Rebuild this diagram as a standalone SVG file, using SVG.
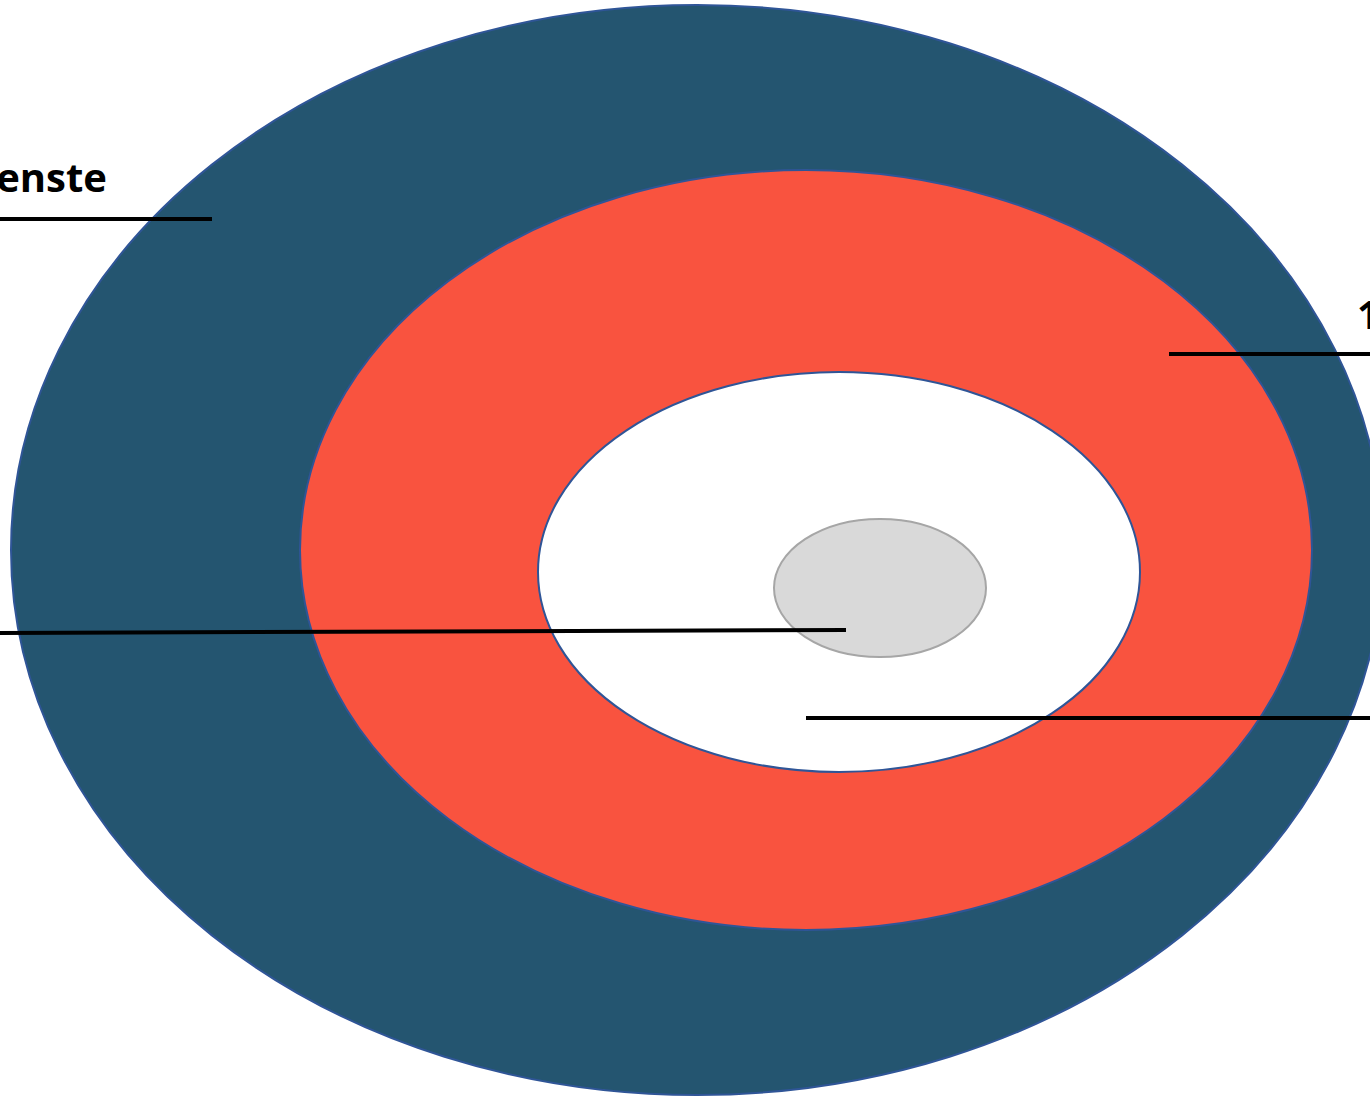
<svg xmlns="http://www.w3.org/2000/svg" width="1370" height="1097" viewBox="0 0 1370 1097">
<style>
.lbl{font-family:"Open Sans","Liberation Sans",sans-serif;font-weight:bold;font-size:40px;fill:#000}
.ring{stroke:#2F5597;stroke-width:2}
.lead{stroke:#000;stroke-width:4;fill:none}
</style>
<rect width="1370" height="1097" fill="#fff"/>
<g id="outer"><ellipse class="ring" cx="697" cy="550" rx="686" ry="545" fill="#245570"/></g>
<g id="middle"><ellipse class="ring" cx="806" cy="550" rx="506" ry="380" fill="#F9533F"/></g>
<g id="inner"><ellipse class="ring" cx="839" cy="572" rx="301" ry="200" fill="#fff"/></g>
<g id="core"><ellipse cx="880" cy="588" rx="106" ry="69" fill="#D9D9D9" stroke="#A6A6A6" stroke-width="2"/></g>
<g id="connectors">
<line class="lead" x1="0" y1="219" x2="212" y2="219"/>
<line class="lead" x1="1169" y1="354" x2="1370" y2="354"/>
<line class="lead" x1="0" y1="633" x2="846" y2="630"/>
<line class="lead" x1="806" y1="718" x2="1370" y2="718"/>
</g>
<g id="labels">
<text class="lbl" x="107" y="192" text-anchor="end">enste</text>
<text class="lbl" x="1357" y="329">1</text>
</g>
</svg>
